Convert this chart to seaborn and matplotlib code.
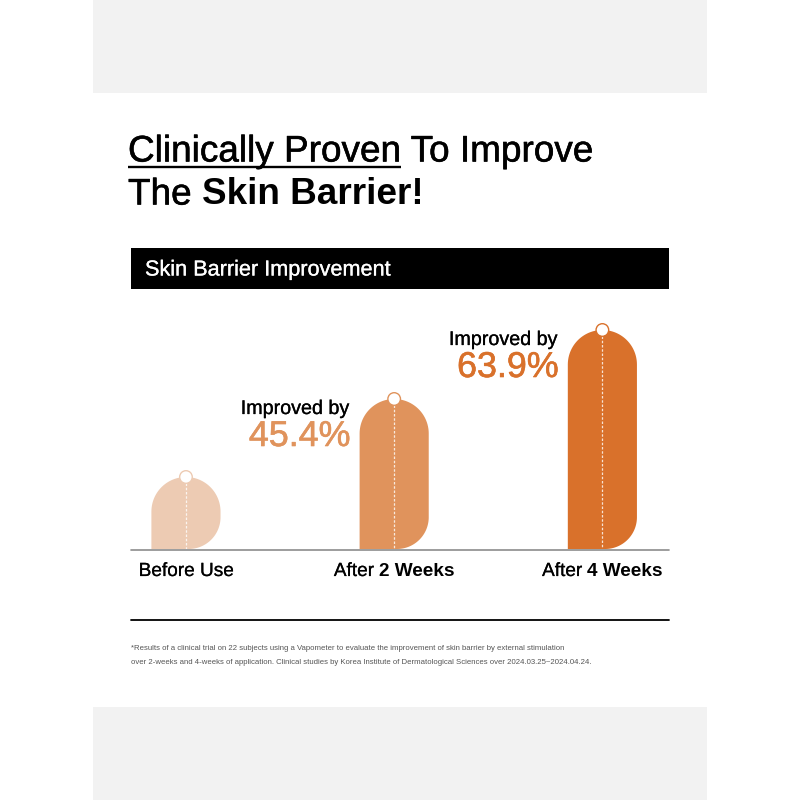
import numpy as np
import pandas as pd
import matplotlib
matplotlib.use("Agg")
import matplotlib.pyplot as plt
import matplotlib.patheffects as pe
import seaborn as sns
from matplotlib.patches import PathPatch, Rectangle, Circle
from matplotlib.path import Path

# ---------------- data ----------------
categories = ["Before Use", "After 2 Weeks", "After 4 Weeks"]
label_regular = ["Before Use", "After ", "After "]
label_bold = ["", "2 Weeks", "4 Weeks"]
bar_levels = [72, 150, 219]          # relative skin-barrier level (illustrative)
improvement_pct = [None, 45.4, 63.9]
bar_colors = ["#EDCBB3", "#E0935C", "#D9712B"]

title_line1 = [("Clinically Proven", "normal", True), (" To Improve", "normal", False)]
title_line2 = [("The ", "normal", False), ("Skin Barrier!", "bold", False)]
banner_text = "Skin Barrier Improvement"
footnote_lines = [
    "*Results of a clinical trial on 22 subjects using a Vapometer to evaluate the improvement of skin barrier by external stimulation",
    "over 2-weeks and 4-weeks of application. Clinical studies by Korea Institute of Dermatological Sciences over 2024.03.25~2024.04.24.",
]

# ---------------- style ----------------
sns.set_theme(style="white")
plt.rcParams["font.family"] = ["Liberation Sans", "DejaVu Sans"]

W = H = 800
fig = plt.figure(figsize=(8, 8), dpi=100)
fig.patch.set_facecolor("white")
bg = fig.add_axes([0, 0, 1, 1])
bg.set_xlim(0, W)
bg.set_ylim(H, 0)
bg.axis("off")
renderer = fig.canvas.get_renderer()


def medium(color, lw):
    if not lw:
        return None
    return [pe.withStroke(linewidth=lw, foreground=color)]


# grey bands
bg.add_patch(Rectangle((93, 0), 614, 93, color="#F2F2F2", lw=0))
bg.add_patch(Rectangle((93, 707), 614, 93, color="#F2F2F2", lw=0))


def text_width(s, **kw):
    t1 = bg.text(0, 0, s + "|", **kw)
    w1 = t1.get_window_extent(renderer).width
    t1.remove()
    t2 = bg.text(0, 0, "|", **kw)
    w2 = t2.get_window_extent(renderer).width
    t2.remove()
    return w1 - w2


def draw_runs(x, y, runs, size, color="black", ha="left", stroke=0.0):
    widths = [text_width(s, fontsize=size, fontweight=wt) for s, wt, _ in runs]
    total = sum(widths)
    if ha == "center":
        x = x - total / 2
    elif ha == "right":
        x = x - total
    for (s, wt, ul), w in zip(runs, widths):
        eff = medium(color, stroke) if wt == "normal" else None
        bg.text(x, y, s, fontsize=size, fontweight=wt, color=color,
                ha="left", va="baseline", path_effects=eff)
        if ul:
            wl = text_width(s.rstrip(), fontsize=size, fontweight=wt)
            bg.plot([x, x + wl], [y + 5.5, y + 5.5], color=color, lw=1.7,
                    solid_capstyle="butt")
        x += w


# title
draw_runs(128, 161.5, title_line1, 26.6, stroke=0.4)
draw_runs(128, 204.5, title_line2, 26.6, stroke=0.4)

# banner
bg.add_patch(Rectangle((131, 248), 538, 41, color="black", lw=0))
bg.text(145, 275.5, banner_text, fontsize=15.6, color="white", ha="left",
        va="baseline", path_effects=medium("white", 0.2))

# ---------------- bars via seaborn ----------------
cax = fig.add_axes([131 / W, 1 - 549 / H, 538 / W, (549 - 300) / H])
df = pd.DataFrame({"stage": categories, "level": bar_levels})
sns.barplot(data=df, x="stage", y="level", hue="stage", palette=bar_colors,
            legend=False, width=0.332, saturation=1, ax=cax)
cax.set_xlim(-0.264, 2.32)
cax.set_ylim(0, 249)
cax.axis("off")
cax.patch.set_alpha(0)

to_px = lambda pts: bg.transData.inverted().transform(cax.transData.transform(pts))

bars = sorted(cax.patches, key=lambda p: p.get_x())
for i, p in enumerate(bars):
    (x0, yb), (x1, yt) = to_px([(p.get_x(), 0), (p.get_x() + p.get_width(), p.get_height())])
    p.set_visible(False)
    r = (x1 - x0) / 2
    rb = r * 0.92
    cx = (x0 + x1) / 2
    th = np.linspace(np.pi, 0, 60)
    top = np.column_stack([cx + r * np.cos(th), (yt + r) - r * np.sin(th)])
    ph = np.linspace(0, -np.pi / 2, 40)
    br = np.column_stack([(x1 - rb) + rb * np.cos(ph), (yb - rb) - rb * np.sin(ph)])
    verts = np.vstack([[(x0, yb)], [(x0, yt + r)], top, [(x1, yb - rb)], br, [(x0, yb)]])
    bg.add_patch(PathPatch(Path(verts, closed=True), facecolor=bar_colors[i],
                           edgecolor="none", zorder=2))
    # dashed centre line and top marker
    bg.plot([cx, cx], [yt + 6, yb], color="white", lw=0.9, alpha=0.8,
            dashes=(2, 1.4), zorder=3)
    bg.add_patch(Circle((cx, yt), 6.3, facecolor="white", edgecolor=bar_colors[i],
                        lw=1.0, zorder=4))
    # category label
    runs = [(label_regular[i], "normal", False)]
    if label_bold[i]:
        runs.append((label_bold[i], "bold", False))
    draw_runs(cx, 576, runs, 13.7, ha="center", stroke=0.15)
    # improvement annotation
    if improvement_pct[i] is not None:
        bg.text(x0 - 10, yt + 15, "Improved by", fontsize=14.2, color="black",
                ha="right", va="baseline", path_effects=medium("black", 0.2))
        bg.text(x0 - 9, yt + 47, f"{improvement_pct[i]:.1f}%", fontsize=25.8,
                color=bar_colors[i], ha="right", va="baseline",
                path_effects=medium(bar_colors[i], 0.45))

# axis baseline and bottom rule
bg.plot([131, 669], [549.5, 549.5], color="#8C8C8C", lw=1.2, zorder=5)
bg.plot([131, 669], [620, 620], color="black", lw=1.3, zorder=5)

# footnote
for k, line in enumerate(footnote_lines):
    bg.text(131, 650 + 14 * k, line, fontsize=5.6, color="#555555",
            ha="left", va="baseline")

fig.savefig("out.png", dpi=100)
